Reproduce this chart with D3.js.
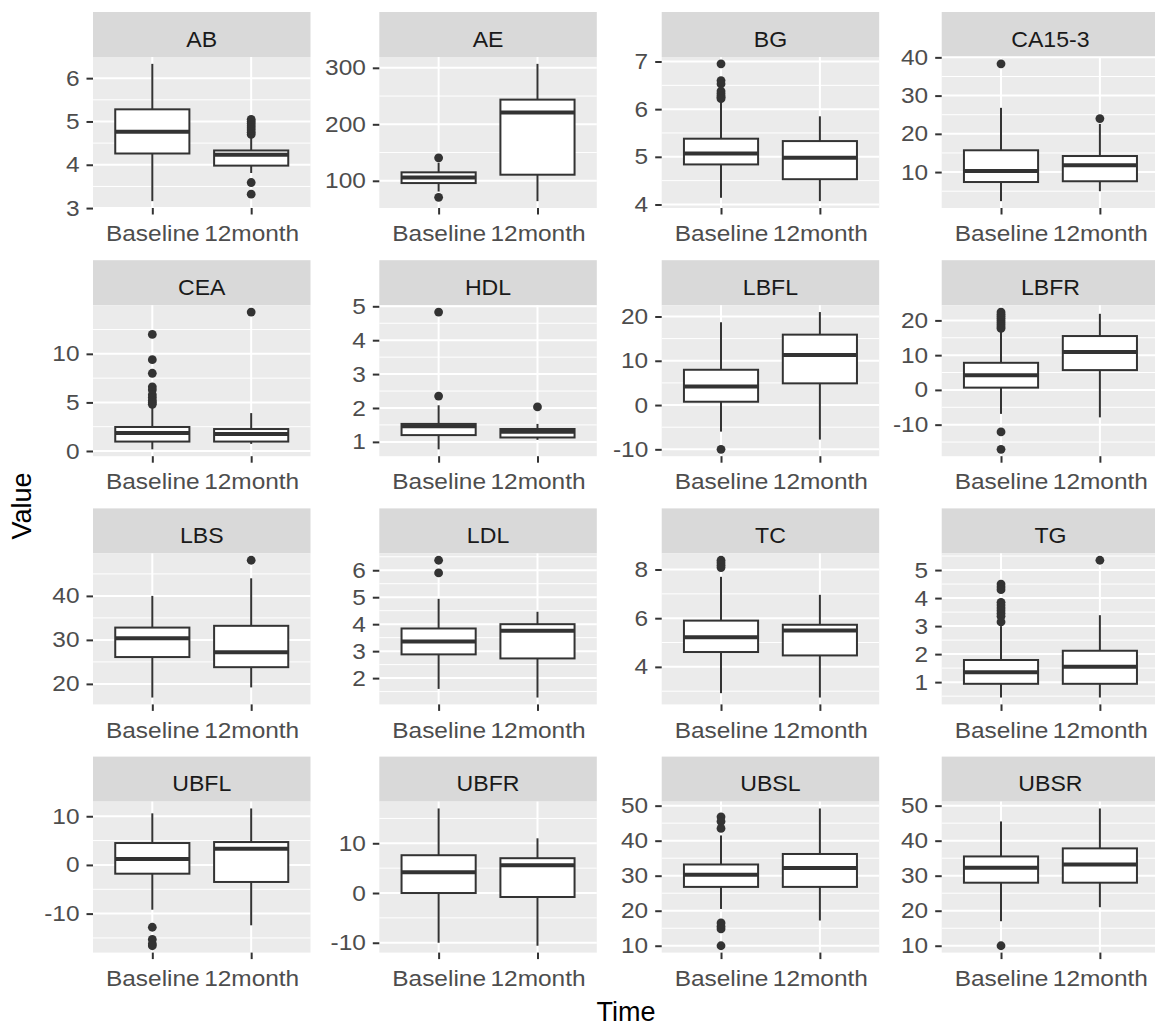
<!DOCTYPE html>
<html>
<head>
<meta charset="utf-8">
<script src="https://cdn.jsdelivr.net/npm/d3@7"></script>
<style>
body { margin: 0; background: #fff; }
svg text { font-family: "Liberation Sans", Arial, sans-serif; }
</style>
</head>
<body>
<svg id="chart" width="1155" height="1026"></svg>
<script>
// facet names and groups
const panels = ["AB", "AE", "BG", "CA15-3", "CEA", "HDL", "LBFL", "LBFR",
                "LBS", "LDL", "TC", "TG", "UBFL", "UBFR", "UBSL", "UBSR"];
const times = ["Baseline", "12month"];

// box stats per panel: [Baseline, 12month]
const lowerWhisker = [[3.16, 3.81], [81, 64], [4.14, 4.07], [2.4, 5.0],
                      [0.17, 0.73], [0.78, 1.06], [-6.0, -7.8], [-6.9, -7.9],
                      [16.9, 19.2], [1.6, 1.28], [2.92, 2.74], [0.45, 0.45],
                      [-9.2, -12.4], [-10, -10.6], [20.5, 17.2], [17, 21]];
const q1 = [[4.26, 3.98], [96, 110.8], [4.84, 4.53], [7.4, 7.6],
            [0.97, 0.97], [1.2, 1.13], [0.75, 4.9], [0.66, 5.7],
            [26.1, 23.8], [2.88, 2.73], [4.61, 4.47], [0.94, 0.94],
            [-1.8, -3.5], [0, -0.8], [26.8, 26.8], [28, 28]];
const median = [[4.76, 4.23], [106, 221], [5.07, 4.98], [10.3, 11.8],
                [1.84, 1.74], [1.46, 1.3], [4.2, 11.3], [4.2, 10.9],
                [30.4, 27.2], [3.36, 3.76], [5.22, 5.49], [1.35, 1.55],
                [1.2, 3.3], [4.2, 5.6], [30.3, 32.2], [32.3, 33.2]];
const q3 = [[5.28, 4.33], [115, 243.7], [5.38, 5.33], [15.7, 14.2],
            [2.47, 2.26], [1.53, 1.38], [7.97, 15.9], [7.8, 15.5],
            [32.8, 33.2], [3.84, 4.0], [5.9, 5.73], [1.79, 2.12],
            [4.5, 4.7], [7.6, 7.0], [33.2, 36.2], [35.5, 37.8]];
const upperWhisker = [[6.33, 4.62], [132, 307], [6.18, 5.85], [26.8, 22.6],
                      [4.6, 3.9], [2.08, 1.53], [18.7, 21.0], [17.2, 21.9],
                      [40, 44.0], [4.94, 4.46], [7.7, 6.96], [3.0, 3.39],
                      [10.6, 11.6], [17, 11], [41.5, 49.2], [45.5, 49.2]];
const outliers = [
  [[], [4.7, 4.75, 4.8, 4.85, 4.9, 4.95, 5.0, 5.05, 3.59, 3.32]],
  [[140.7, 70.7], []],
  [[6.95, 6.6, 6.53, 6.38, 6.33, 6.28, 6.25, 6.22], []],
  [[38.3], [24.0]],
  [[12.0, 9.4, 8.0, 6.6, 6.3, 5.8, 5.5, 5.2, 5.0, 4.8], [14.3]],
  [[4.83, 2.35], [2.03]],
  [[-10.0], []],
  [[22.4, 21.8, 21.2, 20.6, 20.0, 19.4, 18.8, 18.2, 17.7, -12.1, -17.1], []],
  [[], [48.1]],
  [[6.37, 5.9], []],
  [[8.38, 8.28, 8.18, 8.08], []],
  [[4.5, 4.4, 4.3, 3.85, 3.75, 3.65, 3.55, 3.45, 3.35, 3.15], [5.35]],
  [[-12.8, -15.3, -16.2, -16.6], []],
  [[], []],
  [[46.8, 45.5, 43.5, 16.5, 15.5, 14.8, 10], []],
  [[10], []]
];
const yTicks = [[3, 4, 5, 6], [100, 200, 300], [4, 5, 6, 7], [10, 20, 30, 40],
                [0, 5, 10], [1, 2, 3, 4, 5], [-10, 0, 10, 20], [-10, 0, 10, 20],
                [20, 30, 40], [2, 3, 4, 5, 6], [4, 6, 8], [1, 2, 3, 4, 5],
                [-10, 0, 10], [-10, 0, 10], [10, 20, 30, 40, 50], [10, 20, 30, 40, 50]];

// layout
const colLeft = [93, 379.3, 661.7, 941.7];
const panelW = 217.5;
const stripH = 45;
const panelH = 151;
const rowPitch = 248.2;
const top0 = 12;
const fontSize = 22;

const svg = d3.select("#chart");

panels.forEach((name, i) => {
    let col = i % 4, row = Math.floor(i / 4);
    let g = svg.append("g")
        .attr("transform", `translate(${colLeft[col]},${top0 + row * rowPitch})`);

    // strip
    g.append("rect").attr("width", panelW).attr("height", stripH).attr("fill", "#D9D9D9");
    g.append("text")
        .attr("class", "strip")
        .attr("x", panelW / 2).attr("y", 34.5)
        .attr("text-anchor", "middle")
        .attr("font-size", fontSize)
        .attr("fill", "#1A1A1A")
        .text(name);

    let p = g.append("g").attr("transform", `translate(0,${stripH})`);

    // scales
    let allVals = lowerWhisker[i].concat(upperWhisker[i], outliers[i][0], outliers[i][1]);
    let ext = d3.extent(allVals);
    let pad = (ext[1] - ext[0]) * 0.05;
    let y = d3.scaleLinear().domain([ext[0] - pad, ext[1] + pad]).range([panelH, 0]);
    let x = d3.scalePoint().domain(times).range([0, panelW]).padding(0.6);
    let boxW = x.step() * 0.75;

    p.append("rect").attr("width", panelW).attr("height", panelH).attr("fill", "#EBEBEB");

    // grid
    let ticks = yTicks[i];
    let step = ticks[1] - ticks[0];
    let minor = [ticks[0] - step / 2].concat(ticks.map(t => t + step / 2))
        .filter(v => v > y.domain()[0] && v < y.domain()[1]);
    p.selectAll(".minor").data(minor).enter().append("line")
        .attr("x1", 0).attr("x2", panelW)
        .attr("y1", d => y(d)).attr("y2", d => y(d))
        .attr("stroke", "#fff").attr("stroke-width", 1);
    p.selectAll(".major").data(ticks).enter().append("line")
        .attr("x1", 0).attr("x2", panelW)
        .attr("y1", d => y(d)).attr("y2", d => y(d))
        .attr("stroke", "#fff").attr("stroke-width", 2);
    p.selectAll(".vmajor").data(times).enter().append("line")
        .attr("x1", d => x(d)).attr("x2", d => x(d))
        .attr("y1", 0).attr("y2", panelH)
        .attr("stroke", "#fff").attr("stroke-width", 2);

    // boxes
    times.forEach((t, j) => {
        let cx = x(t);
        let b = p.append("g");
        b.append("line").attr("x1", cx).attr("x2", cx)
            .attr("y1", y(upperWhisker[i][j])).attr("y2", y(q3[i][j]))
            .attr("stroke", "#333").attr("stroke-width", 2);
        b.append("line").attr("x1", cx).attr("x2", cx)
            .attr("y1", y(q1[i][j])).attr("y2", y(lowerWhisker[i][j]))
            .attr("stroke", "#333").attr("stroke-width", 2);
        b.append("rect")
            .attr("x", cx - boxW / 2).attr("width", boxW)
            .attr("y", y(q3[i][j])).attr("height", y(q1[i][j]) - y(q3[i][j]))
            .attr("fill", "#fff").attr("stroke", "#333").attr("stroke-width", 2);
        b.append("line").attr("x1", cx - boxW / 2).attr("x2", cx + boxW / 2)
            .attr("y1", y(median[i][j])).attr("y2", y(median[i][j]))
            .attr("stroke", "#333").attr("stroke-width", 4);
        b.selectAll("circle").data(outliers[i][j]).enter().append("circle")
            .attr("cx", cx).attr("cy", d => y(d)).attr("r", 4.4)
            .attr("fill", "#333");
    });

    // axes
    let ya = p.append("g").call(d3.axisLeft(y).tickValues(ticks)
        .tickFormat(d => String(d)).tickSize(6.5).tickPadding(7));
    let xa = p.append("g").attr("transform", `translate(0,${panelH})`)
        .call(d3.axisBottom(x).tickSize(6.5).tickPadding(11));
    [ya, xa].forEach(a => {
        a.select(".domain").remove();
        a.selectAll(".tick line").attr("stroke", "#333").attr("stroke-width", 2);
        a.selectAll(".tick text")
            .attr("class", "axtext")
            .attr("fill", "#4D4D4D")
            .attr("font-size", fontSize)
            .attr("font-family", "Liberation Sans, Arial, sans-serif");
    });
});

// axis titles
svg.append("text")
    .attr("x", (colLeft[0] + colLeft[3] + panelW) / 2).attr("y", 1021)
    .attr("text-anchor", "middle").attr("font-size", 27).attr("fill", "#000")
    .text("Time");
svg.append("text")
    .attr("transform", `translate(31,506) rotate(-90)`)
    .attr("text-anchor", "middle").attr("font-size", 27).attr("fill", "#000")
    .text("Value");

// the reference text is drawn a bit wider than the font
function stretch(sel, k) {
    sel.each(function () {
        let w = this.getComputedTextLength();
        d3.select(this).attr("textLength", w * k).attr("lengthAdjust", "spacingAndGlyphs");
    });
}
stretch(svg.selectAll(".axtext"), 1.11);
stretch(svg.selectAll(".strip"), 1.05);
</script>
</body>
</html>
